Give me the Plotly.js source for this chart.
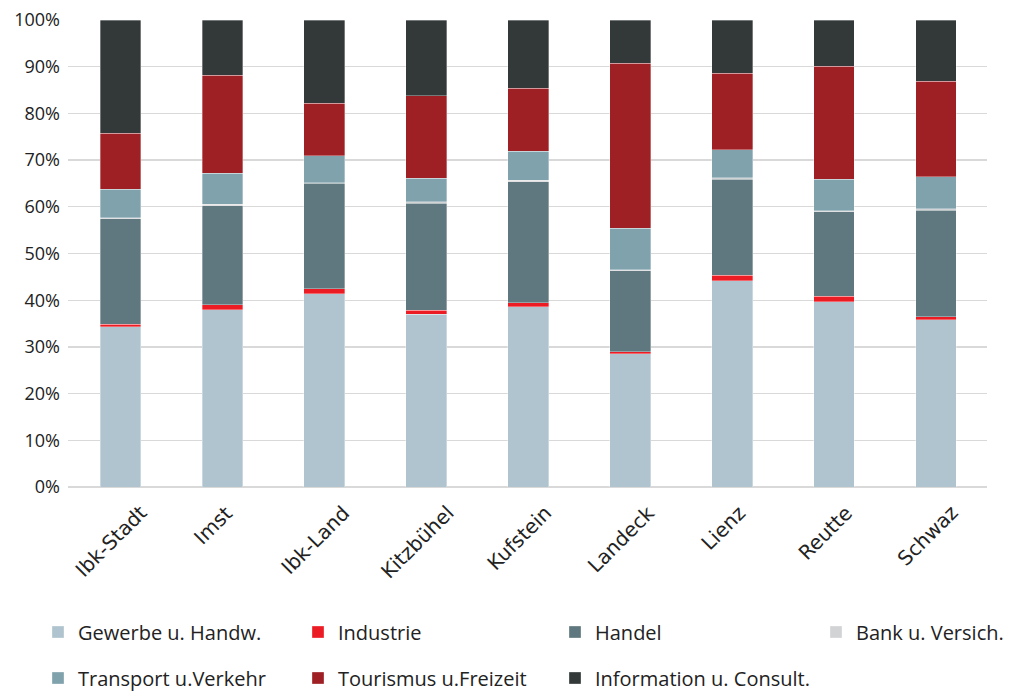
<!DOCTYPE html>
<html><head><meta charset="utf-8">
<script src="https://cdn.plot.ly/plotly-3.0.1.min.js"></script>
<style>html,body{margin:0;padding:0;background:#fff}#chart{width:1009px;height:692px}</style>
</head><body><div id="chart"></div>
<script>
const categories = ["Ibk-Stadt","Imst","Ibk-Land","Kitzbühel","Kufstein","Landeck","Lienz","Reutte","Schwaz"];
const gewerbe     = [0.343,0.380,0.414,0.370,0.386,0.285,0.442,0.397,0.358];
const industrie   = [0.005,0.010,0.010,0.008,0.009,0.005,0.011,0.012,0.007];
const handel      = [0.226,0.212,0.226,0.230,0.259,0.173,0.206,0.180,0.228];
const bank        = [0.003,0.004,0.002,0.003,0.003,0.002,0.003,0.003,0.003];
const transport   = [0.061,0.066,0.057,0.050,0.062,0.089,0.060,0.067,0.068];
const tourismus   = [0.120,0.210,0.113,0.177,0.135,0.353,0.164,0.242,0.205];
const information = [0.242,0.118,0.178,0.162,0.146,0.093,0.114,0.099,0.131];
const yTickVals   = [0,0.1,0.2,0.3,0.4,0.5,0.6,0.7,0.8,0.9,1];
const yTickText   = ["0%","10%","20%","30%","40%","50%","60%","70%","80%","90%","100%"];

const seriesNames  = ["Gewerbe u. Handw.","Industrie","Handel","Bank u. Versich.","Transport u.Verkehr","Tourismus u.Freizeit","Information u. Consult."];
const seriesValues = [gewerbe,industrie,handel,bank,transport,tourismus,information];
const seriesColors = ["#b0c4cf","#ec1c24","#5f777e","#d2d3d5","#80a2ad","#9e1f24","#333839"];

// legend placement (container pixels): column left edge of symbol, row centre
const legendCols = [50,310,567,828,50,310,567];
const legendRows = [632,632,632,632,678,678,678];

const legKeys = seriesNames.map((n,i)=> i===0 ? "legend" : "legend"+(i+1));

const data = seriesNames.map((n,i)=>({
  type:"bar", name:n, x:categories, y:seriesValues[i],
  marker:{color:seriesColors[i], line:{color:"rgba(255,255,255,0.55)", width:0.6}},
  width:0.4, legend:legKeys[i], hoverinfo:"none"
}));

// category labels, rotated, centred under each bar (Excel-style)
const catLabels = categories.map(c=>({
  x:c, xref:"x", y:0, yref:"paper", text:c, showarrow:false, textangle:-45,
  xanchor:"center", yanchor:"top", xshift:-9, yshift:-11,
  font:{family:"'DejaVu Sans', sans-serif", size:20, color:"#222"}
}));

const layout = {
  width:1009, height:692,
  margin:{l:68, r:22, t:20, b:204.5},
  barmode:"stack",
  paper_bgcolor:"#fff", plot_bgcolor:"#fff",
  font:{family:"'Open Sans', sans-serif", color:"#222", size:18},
  xaxis:{showticklabels:false, showgrid:false, ticks:"", showline:false, zeroline:false},
  yaxis:{range:[0,1], tickvals:yTickVals, ticktext:yTickText,
         tickfont:{family:"'Open Sans', sans-serif", size:18, color:"#222"}, gridcolor:"#d9d9d9", gridwidth:1.3, zeroline:true, zerolinecolor:"#d9d9d9", zerolinewidth:1.3, ticks:"", ticklabelstandoff:7},
  annotations:catLabels,
  showlegend:true
};
legKeys.forEach((k,i)=>{
  layout[k] = {orientation:"h", xref:"container", yref:"container",
    x:(legendCols[i]-12)/1009, y:1-legendRows[i]/692, xanchor:"left", yanchor:"middle",
    font:{family:"'Open Sans', sans-serif", size:20, color:"#222"}, bgcolor:"rgba(0,0,0,0)", itemclick:false};
});
Plotly.newPlot("chart", data, layout, {displayModeBar:false, staticPlot:true});
</script></body></html>
